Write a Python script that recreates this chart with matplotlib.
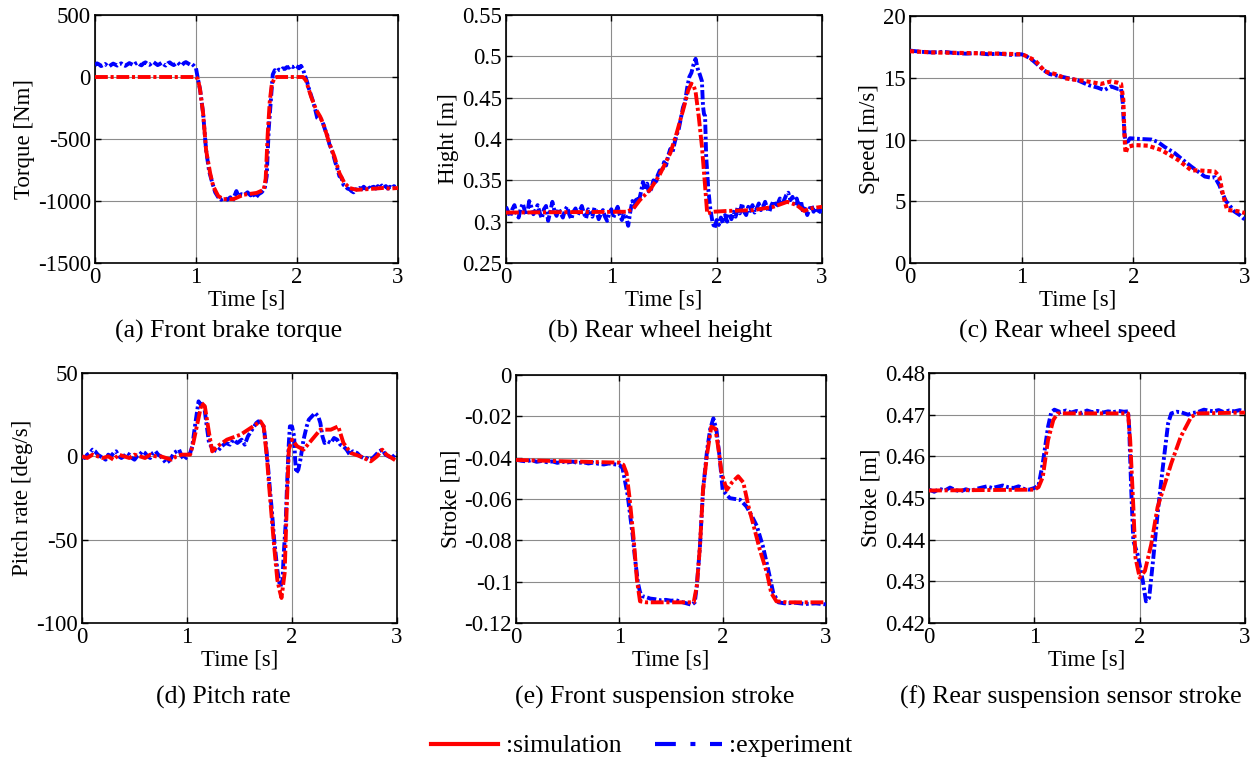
import numpy as np
import matplotlib
matplotlib.use('Agg')
import matplotlib.pyplot as plt
from matplotlib.lines import Line2D

plt.rcParams['font.family'] = ['Liberation Serif', 'DejaVu Serif']

# ================= DATA =================
time_ticks = [0, 1, 2, 3]
time_ticklabels = ['0', '1', '2', '3']

# ---- (a) Front brake torque [Nm] ----
sim_a_t = [0, 1.0, 1.02, 1.04, 1.07, 1.10, 1.14, 1.17, 1.22, 1.27, 1.37, 1.47, 1.60, 1.67, 1.69, 1.71,
           1.73, 1.75, 1.78, 1.80, 2.06, 2.09, 2.14, 2.19, 2.23, 2.27, 2.32, 2.37, 2.42, 2.47, 2.52, 2.59,
           2.69, 2.85, 2.92, 3.0]
sim_a_v = [0, 0, -20, -100, -290, -590, -775, -880, -960, -985, -985, -950, -935, -910, -820, -460,
           -200, -60, -5, 0, 0, -30, -160, -265, -320, -400, -535, -640, -775, -855, -895, -910,
           -905, -895, -900, -895]
exp_a_noise = [95, 110, 102, 88, 96, 105, 92, 85, 98, 108, 100, 92, 104, 110, 97, 90, 101, 112, 104, 95,
               108, 116, 102, 94, 110, 118, 105, 98, 112, 120, 108, 96, 104, 115, 102, 92, 110, 118, 104, 96,
               108, 116, 100, 94, 112, 120, 110, 100, 105, 90]          # t = 0 .. 0.98
exp_a_mid_t = [1.00, 1.02, 1.04, 1.07, 1.10, 1.13, 1.16, 1.19, 1.22, 1.25, 1.28, 1.31, 1.34, 1.36, 1.38,
               1.40, 1.42, 1.45, 1.48, 1.51, 1.54, 1.57, 1.59, 1.62, 1.65, 1.68, 1.70, 1.71, 1.72, 1.74, 1.76]
exp_a_mid_v = [70, -20, -100, -290, -590, -760, -850, -930, -970, -990, -975, -990, -970, -1005, -960,
               -920, -960, -945, -950, -930, -955, -940, -975, -945, -930, -900, -800, -600, -420, -200, 20]
exp_a_tail = [55, 45, 60, 55, 70, 65, 80, 75, 90, 80, 95, 85, 70, 90, 60, 10, -40, -100, -150, -200, -260,
              -330, -345, -340, -380, -430, -470, -540, -580, -630, -690, -740, -800, -810, -870, -880, -900,
              -905, -920, -930, -905, -910, -895, -905, -885, -900, -880, -905, -890, -885, -900, -880, -895,
              -875, -890, -880, -900, -885, -895, -880, -890]           # t = 1.78 .. 2.98
a_yticks = [-1500, -1000, -500, 0, 500]
a_yticklabels = ['-1500', '-1000', '-500', '0', '500']

# ---- (b) Rear wheel height [m] ----
sim_b_t = [0, 1.15, 1.21, 1.27, 1.37, 1.46, 1.56, 1.62, 1.69, 1.73, 1.76, 1.78, 1.80, 1.83, 1.86, 1.89,
           1.91, 1.97, 2.1, 2.35, 2.54, 2.67, 2.76, 2.83, 2.89, 3.0]
sim_b_v = [0.311, 0.312, 0.316, 0.326, 0.339, 0.357, 0.383, 0.407, 0.439, 0.459, 0.467, 0.465, 0.457,
           0.427, 0.391, 0.343, 0.310, 0.312, 0.313, 0.314, 0.318, 0.324, 0.320, 0.313, 0.316, 0.318]
exp_b_noise = [0.318, 0.312, 0.306, 0.315, 0.320, 0.310, 0.305, 0.316, 0.322, 0.312, 0.308, 0.325, 0.318,
               0.309, 0.314, 0.320, 0.311, 0.304, 0.315, 0.319, 0.301, 0.312, 0.324, 0.313, 0.307, 0.316,
               0.310, 0.305, 0.314, 0.318, 0.309, 0.303, 0.312, 0.316, 0.308, 0.313, 0.319, 0.310, 0.304,
               0.315, 0.311, 0.306, 0.317, 0.312, 0.303, 0.309, 0.314, 0.306, 0.301, 0.310, 0.315, 0.305,
               0.312, 0.318, 0.308, 0.302, 0.310, 0.306]                # t = 0 .. 1.14
exp_b_mid_t = [1.16, 1.18, 1.20, 1.22, 1.24, 1.26, 1.28, 1.30, 1.32, 1.34, 1.36, 1.38, 1.40, 1.42, 1.44,
               1.46, 1.48, 1.50, 1.52, 1.54, 1.56, 1.58, 1.60, 1.62, 1.64, 1.66, 1.68, 1.70, 1.72, 1.74,
               1.76, 1.78, 1.80, 1.82, 1.84, 1.86, 1.87, 1.88, 1.89, 1.90, 1.92, 1.94, 1.96]
exp_b_mid_v = [0.295, 0.312, 0.325, 0.318, 0.330, 0.324, 0.335, 0.348, 0.338, 0.346, 0.335, 0.340, 0.350,
               0.345, 0.356, 0.362, 0.360, 0.372, 0.368, 0.380, 0.388, 0.383, 0.395, 0.405, 0.412, 0.425,
               0.438, 0.445, 0.462, 0.475, 0.480, 0.490, 0.497, 0.485, 0.478, 0.470, 0.440, 0.430, 0.428,
               0.380, 0.340, 0.315, 0.300]
exp_b_tail = [0.292, 0.302, 0.296, 0.305, 0.298, 0.308, 0.300, 0.310, 0.303, 0.312, 0.306, 0.318, 0.310,
              0.322, 0.312, 0.308, 0.318, 0.313, 0.320, 0.311, 0.316, 0.322, 0.314, 0.318, 0.324, 0.316,
              0.312, 0.320, 0.325, 0.318, 0.322, 0.328, 0.320, 0.326, 0.332, 0.335, 0.326, 0.330, 0.322,
              0.328, 0.318, 0.325, 0.312, 0.318, 0.308, 0.315, 0.320, 0.312, 0.317, 0.310, 0.314, 0.311]
                                                                        # t = 1.98 .. 3.00
b_yticks = [0.25, 0.3, 0.35, 0.4, 0.45, 0.5, 0.55]
b_yticklabels = ['0.25', '0.3', '0.35', '0.4', '0.45', '0.5', '0.55']

# ---- (c) Rear wheel speed [m/s] ----
sim_c_t = [0, 0.2, 0.5, 0.8, 1.0, 1.03, 1.12, 1.21, 1.30, 1.39, 1.59, 1.71, 1.80, 1.86, 1.89, 1.91, 1.92,
           1.93, 1.95, 2.01, 2.13, 2.25, 2.40, 2.52, 2.58, 2.73, 2.77, 2.80, 2.84, 2.93, 3.0]
sim_c_v = [17.15, 17.05, 17.0, 16.95, 16.9, 16.8, 16.4, 15.5, 15.3, 14.95, 14.7, 14.5, 14.7, 14.6, 14.5,
           13.2, 10.5, 8.9, 9.4, 9.55, 9.5, 9.15, 8.35, 7.5, 7.5, 7.4, 7.0, 5.65, 4.3, 4.2, 4.05]
exp_c_t = [0, 0.1, 0.2, 0.3, 0.4, 0.5, 0.6, 0.7, 0.8, 0.9, 1.0, 1.05, 1.10, 1.15, 1.20, 1.25, 1.30, 1.40,
           1.50, 1.60, 1.68, 1.74, 1.80, 1.86, 1.89, 1.905, 1.92, 1.935, 1.97, 2.05, 2.16, 2.22, 2.28, 2.37,
           2.45, 2.52, 2.58, 2.64, 2.70, 2.73, 2.77, 2.80, 2.83, 2.86, 2.90, 2.95, 3.0]
exp_c_v = [17.2, 17.1, 17.05, 17.1, 17.0, 16.95, 17.0, 16.9, 16.95, 16.85, 16.9, 16.7, 16.4, 16.0, 15.6,
           15.3, 15.2, 15.0, 14.8, 14.4, 14.2, 14.0, 14.3, 14.1, 14.1, 13.0, 10.5, 9.6, 10.1, 10.05, 10.0,
           9.8, 9.4, 8.9, 8.3, 7.8, 7.4, 7.0, 6.9, 6.95, 6.3, 5.6, 5.0, 4.7, 4.2, 3.9, 3.5]
c_yticks = [0, 5, 10, 15, 20]
c_yticklabels = ['0', '5', '10', '15', '20']

# ---- (d) Pitch rate [deg/s] ----
sim_d_t = [0, 0.05, 0.1, 0.15, 0.2, 0.25, 0.3, 0.35, 0.4, 0.45, 0.5, 0.55, 0.6, 0.65, 0.7, 0.75, 0.8,
           0.85, 0.9, 0.95, 1.0, 1.03, 1.06, 1.10, 1.14, 1.17, 1.19, 1.21, 1.24, 1.29, 1.38, 1.51, 1.63,
           1.70, 1.73, 1.76, 1.79, 1.83, 1.86, 1.88, 1.90, 1.93, 1.95, 1.97, 2.0, 2.05, 2.11, 2.19, 2.27,
           2.37, 2.44, 2.49, 2.56, 2.65, 2.75, 2.81, 2.86, 2.9, 2.95, 3.0]
sim_d_v = [0, -1, 1, 0, -1, 0, -2, 1, 0, -1, 1, 0, -1, 1, 0, 0, -1, -2, 0, 1, 1, 1, 8, 20, 32, 30, 22,
           14, 3, 6, 10, 13, 18, 21, 18, 0, -24, -54, -74, -80, -85, -70, -30, 4, 10, 6, 4, 10, 16, 16,
           18, 8, 2, 0, -3, 0, 4, 1, -1, -3]
exp_d_noise = [0, -1, 1, 2, 4, 3, 1, 0, -1, -2, 1, 0, 2, 3, 0, -1, 0, 2, 1, -1, -2, 0, 1, 3, 2, 0, -1,
               2, 3, 1, 0, -2, -4, -3, -1, 2, 3, 4, 0, -2, 0]           # t = 0 .. 1.0
exp_d_t = [1.03, 1.05, 1.08, 1.11, 1.13, 1.16, 1.18, 1.21, 1.25, 1.29, 1.33, 1.37, 1.41, 1.44, 1.48, 1.52,
           1.55, 1.58, 1.62, 1.66, 1.68, 1.71, 1.73, 1.75, 1.77, 1.79, 1.81, 1.83, 1.86, 1.88, 1.89, 1.91,
           1.92, 1.94, 1.95, 1.96, 1.97, 1.98, 2.00, 2.02, 2.03, 2.04, 2.06, 2.08, 2.11, 2.14, 2.16, 2.19,
           2.22, 2.25, 2.27, 2.29, 2.31, 2.34, 2.37, 2.40, 2.43, 2.46, 2.49, 2.52, 2.55, 2.58, 2.62, 2.65,
           2.68, 2.71, 2.74, 2.77, 2.80, 2.83, 2.86, 2.89, 2.92, 2.95, 2.98, 3.0]
exp_d_v = [2, 6, 20, 33, 31, 32, 22, 8, 4, 3, 6, 8, 7, 10, 8, 10, 7, 12, 16, 20, 21, 19, 18, 8, -5, -20,
           -34, -50, -68, -76, -78, -74, -60, -40, -22, -6, 8, 18, 18, 12, -2, -10, -8, -2, 10, 18, 22,
           24, 26, 24, 20, 12, 8, 9, 8, 11, 10, 7, 6, 4, 1, 3, 2, 0, -1, -1, -2, -1, 1, 3, 4, 1, 0, -1,
           1, 2]
d_yticks = [-100, -50, 0, 50]
d_yticklabels = ['-100', '-50', '0', '50']

# ---- (e) Front suspension stroke [m] ----
sim_e_t = [0, 0.5, 1.0, 1.04, 1.07, 1.10, 1.14, 1.17, 1.20, 1.26, 1.72, 1.75, 1.78, 1.81, 1.85, 1.89,
           1.93, 1.96, 1.99, 2.04, 2.09, 2.15, 2.20, 2.25, 2.30, 2.36, 2.43, 2.47, 2.52, 2.62, 3.0]
sim_e_v = [-0.0411, -0.0418, -0.0424, -0.0435, -0.0475, -0.060, -0.080, -0.099, -0.1095, -0.110, -0.110,
           -0.102, -0.083, -0.0556, -0.038, -0.025, -0.026, -0.036, -0.0475, -0.0556, -0.052, -0.049,
           -0.052, -0.0636, -0.073, -0.0846, -0.096, -0.1055, -0.1095, -0.110, -0.110]
exp_e_noise = [-0.0410, -0.0415, -0.0418, -0.0412, -0.0420, -0.0416, -0.0422, -0.0418, -0.0425, -0.0420,
               -0.0423, -0.0419, -0.0426, -0.0422, -0.0428, -0.0424, -0.0430, -0.0433, -0.0428, -0.0432,
               -0.0435]                                                  # t = 0 .. 1.0
exp_e_t = [1.03, 1.05, 1.08, 1.10, 1.13, 1.15, 1.18, 1.20, 1.22, 1.26, 1.30, 1.35, 1.40, 1.45, 1.50, 1.55,
           1.60, 1.65, 1.70, 1.73, 1.75, 1.78, 1.81, 1.85, 1.88, 1.91, 1.94, 1.97, 2.0, 2.04, 2.07, 2.12,
           2.17, 2.23, 2.28, 2.33, 2.39, 2.44, 2.49, 2.54, 2.6, 2.7, 2.8, 2.9, 3.0]
exp_e_v = [-0.045, -0.050, -0.058, -0.066, -0.078, -0.088, -0.1006, -0.105, -0.107, -0.1075, -0.1082,
           -0.1085, -0.1090, -0.1088, -0.1092, -0.1090, -0.1098, -0.1105, -0.1112, -0.110, -0.102, -0.083,
           -0.0556, -0.036, -0.026, -0.021, -0.0266, -0.0395, -0.0556, -0.058, -0.0596, -0.0600, -0.0604,
           -0.0636, -0.068, -0.073, -0.083, -0.094, -0.1055, -0.110, -0.1105, -0.1102, -0.1108, -0.1105,
           -0.1110]
e_yticks = [-0.12, -0.1, -0.08, -0.06, -0.04, -0.02, 0]
e_yticklabels = ['-0.12', '-0.1', '-0.08', '-0.06', '-0.04', '-0.02', '0']

# ---- (f) Rear suspension sensor stroke [m] ----
sim_f_t = [0, 1.0, 1.04, 1.08, 1.13, 1.18, 1.22, 1.89, 1.91, 1.94, 1.96, 2.0, 2.05, 2.11, 2.17, 2.30,
           2.39, 2.49, 2.55, 3.0]
sim_f_v = [0.4518, 0.452, 0.4526, 0.455, 0.4639, 0.4687, 0.4703, 0.4703, 0.4639, 0.4478, 0.4357, 0.4309,
           0.4325, 0.4389, 0.4478, 0.4583, 0.4647, 0.4695, 0.4703, 0.4705]
exp_f_noise = [0.4520, 0.4515, 0.4522, 0.4518, 0.4525, 0.4519, 0.4516, 0.4521, 0.4517, 0.4522, 0.4525,
               0.4528, 0.4524, 0.4527, 0.4530, 0.4526, 0.4524, 0.4528, 0.4522, 0.4520, 0.4524]  # t = 0 .. 1.0
exp_f_t = [1.04, 1.08, 1.13, 1.16, 1.19, 1.25, 1.30, 1.35, 1.40, 1.45, 1.50, 1.55, 1.60, 1.65, 1.70, 1.75,
           1.80, 1.85, 1.89, 1.90, 1.92, 1.94, 1.98, 2.03, 2.06, 2.09, 2.13, 2.17, 2.22, 2.27, 2.30, 2.35,
           2.39, 2.46, 2.50, 2.55, 2.61, 2.65, 2.70, 2.75, 2.80, 2.85, 2.90, 2.95, 3.0]
exp_f_v = [0.4530, 0.4583, 0.4671, 0.4705, 0.4712, 0.4706, 0.4710, 0.4705, 0.4709, 0.4704, 0.4710, 0.4706,
           0.4709, 0.4705, 0.4708, 0.4706, 0.4709, 0.4707, 0.4708, 0.4671, 0.4518, 0.4397, 0.4365, 0.4301,
           0.4252, 0.4260, 0.4357, 0.4462, 0.4574, 0.4679, 0.4703, 0.4707, 0.4706, 0.4700, 0.4704, 0.4706,
           0.4712, 0.4710, 0.4708, 0.4711, 0.4706, 0.4710, 0.4708, 0.4711, 0.4707]
f_yticks = [0.42, 0.43, 0.44, 0.45, 0.46, 0.47, 0.48]
f_yticklabels = ['0.42', '0.43', '0.44', '0.45', '0.46', '0.47', '0.48']

# ================= ASSEMBLE =================
def seg(t0, t1, vals):
    return list(np.linspace(t0, t1, len(vals))), list(vals)

def join(*parts):
    t, v = [], []
    for pt, pv in parts:
        t += list(pt)
        v += list(pv)
    return np.array(t), np.array(v)

exp_a = join(seg(0, 0.98, exp_a_noise), (exp_a_mid_t, exp_a_mid_v), seg(1.78, 2.98, exp_a_tail))
exp_b = join(seg(0, 1.14, exp_b_noise), (exp_b_mid_t, exp_b_mid_v), seg(1.98, 3.0, exp_b_tail))
exp_c = join((exp_c_t, exp_c_v))
exp_d = join(seg(0, 1.0, exp_d_noise), (exp_d_t, exp_d_v))
exp_e = join(seg(0, 1.0, exp_e_noise), (exp_e_t, exp_e_v))
exp_f = join(seg(0, 1.0, exp_f_noise), (exp_f_t, exp_f_v))

panels = [
    dict(sim=(sim_a_t, sim_a_v), exp=exp_a, ylim=(-1500, 500), yt=a_yticks, ytl=a_yticklabels,
         ylabel='Torque [Nm]', cap='(a) Front brake torque', box=(95, 15, 398, 263), cx=229, cy=331, red='dd'),
    dict(sim=(sim_b_t, sim_b_v), exp=exp_b, ylim=(0.25, 0.55), yt=b_yticks, ytl=b_yticklabels,
         ylabel='Hight [m]', cap='(b) Rear wheel height', box=(506, 15, 822, 263), cx=660, cy=331, red='dd'),
    dict(sim=(sim_c_t, sim_c_v), exp=exp_c, ylim=(0, 20), yt=c_yticks, ytl=c_yticklabels,
         ylabel='Speed [m/s]', cap='(c) Rear wheel speed', box=(910, 16, 1245, 263), cx=1068, cy=331, red='dot'),
    dict(sim=(sim_d_t, sim_d_v), exp=exp_d, ylim=(-100, 50), yt=d_yticks, ytl=d_yticklabels,
         ylabel='Pitch rate [deg/s]', cap='(d) Pitch rate', box=(82, 373, 397, 623), cx=223, cy=697, red='dd'),
    dict(sim=(sim_e_t, sim_e_v), exp=exp_e, ylim=(-0.12, 0), yt=e_yticks, ytl=e_yticklabels,
         ylabel='Stroke [m]', cap='(e) Front suspension stroke', box=(516, 375, 826, 623), cx=655, cy=697, red='dd'),
    dict(sim=(sim_f_t, sim_f_v), exp=exp_f, ylim=(0.42, 0.48), yt=f_yticks, ytl=f_yticklabels,
         ylabel='Stroke [m]', cap='(f) Rear suspension sensor stroke', box=(929, 373, 1245, 623), cx=1071, cy=697, red='dd'),
]

W, H = 1258, 760
fig = plt.figure(figsize=(W / 100, H / 100), dpi=100)
FS = 16.5
CAP_FS = 18.5
RED = '#ff0000'
BLUE = '#0000ff'
LW = 2.8

for p in panels:
    x0, y0, x1, y1 = p['box']
    ax = fig.add_axes([x0 / W, 1 - y1 / H, (x1 - x0) / W, (y1 - y0) / H])
    et, ev = p['exp']
    ax.plot(et, ev, color=BLUE, lw=LW, dashes=(2.4, 0.7, 0.7, 0.7), zorder=3)
    st, sv = p['sim']
    if p['red'] == 'dot':
        ax.plot(st, sv, color=RED, lw=LW + 0.2, dashes=(1.0, 0.7), zorder=4)
    else:
        ax.plot(st, sv, color=RED, lw=LW, dashes=(3.3, 0.7, 0.8, 0.7), zorder=4)
    ax.set_xlim(0, 3)
    ax.set_ylim(*p['ylim'])
    ax.set_xticks(time_ticks)
    ax.set_xticklabels(time_ticklabels)
    ax.set_yticks(p['yt'])
    ax.set_yticklabels(p['ytl'])
    ax.grid(True, color='#8c8c8c', lw=0.8)
    ax.set_axisbelow(True)
    ax.tick_params(direction='in', top=True, right=True, length=4, width=1, labelsize=FS, pad=3)
    for s in ax.spines.values():
        s.set_linewidth(1.2)
    ax.set_xlabel('Time [s]', fontsize=FS, labelpad=1)
    ax.set_ylabel(p['ylabel'], fontsize=FS, labelpad=2)
    fig.text(p['cx'] / W, 1 - p['cy'] / H, p['cap'], fontsize=CAP_FS, ha='center', va='center')

handles = [Line2D([], [], color=RED, lw=3.0),
           Line2D([], [], color=BLUE, lw=3.0, dashes=(5.0, 3.5, 1.2, 3.5))]
fig.legend(handles, [':simulation', ':experiment'], loc='center', bbox_to_anchor=(642 / W, 1 - 746 / H),
           ncol=2, frameon=False, fontsize=CAP_FS, handlelength=2.6, handletextpad=0.3, columnspacing=1.3)

fig.savefig('out.png', dpi=100)
